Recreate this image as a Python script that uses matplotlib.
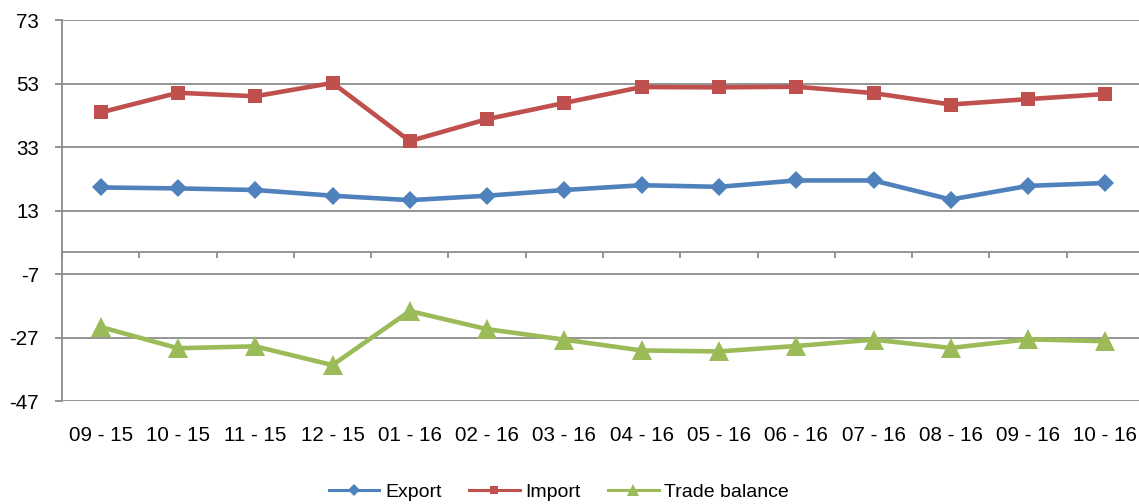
import matplotlib
matplotlib.use("Agg")
import matplotlib.pyplot as plt

categories = ["09 - 15", "10 - 15", "11 - 15", "12 - 15", "01 - 16", "02 - 16", "03 - 16",
              "04 - 16", "05 - 16", "06 - 16", "07 - 16", "08 - 16", "09 - 16", "10 - 16"]
export = [20.3, 20.0, 19.5, 17.7, 16.3, 17.7, 19.5, 21.0, 20.5, 22.5, 22.5, 16.5, 20.8, 21.7]
imports = [43.9, 50.1, 49.0, 53.2, 34.9, 41.8, 46.9, 51.9, 51.8, 52.0, 50.0, 46.4, 48.1, 49.7]
balance = [-23.6, -30.3, -29.7, -35.6, -18.6, -24.3, -27.6, -31.0, -31.3, -29.6, -27.6, -30.2, -27.5, -28.1]
yticks = [-47, -27, -7, 13, 33, 53, 73]

plt.rcParams['font.family'] = ['Liberation Sans', 'DejaVu Sans']
plt.rcParams['axes.unicode_minus'] = False

W, H = 1139, 504
fig = plt.figure(figsize=(W / 100, H / 100), dpi=100)
left, right = 62, 1144
top, bottom = 20, 401.3
ax = fig.add_axes([left / W, 1 - bottom / H, (right - left) / W, (bottom - top) / H])

grid_c = '#8c8c8c'
blue, red, green = '#4F81BD', '#C0504D', '#9BBB59'
lw = 3.3

x = list(range(len(categories)))
ax.plot(x, export, color=blue, lw=lw, marker='D', ms=9.6, mew=0, label='Export',
        solid_joinstyle='round', zorder=3)
ax.plot(x, imports, color=red, lw=lw, marker='s', ms=10.6, mew=0, label='Import',
        solid_joinstyle='round', zorder=3)
ax.plot(x, balance, color=green, lw=lw, marker='^', ms=13.8, mew=0, label='Trade balance',
        solid_joinstyle='round', zorder=3)

ax.set_xlim(-0.5, len(categories) - 0.5)
ax.set_ylim(yticks[0], yticks[-1])
ax.set_yticks(yticks)
ax.set_yticklabels([str(v) for v in yticks])
ax.yaxis.grid(True, color=grid_c, lw=1.3)
ax.set_axisbelow(True)
for s in ['top', 'right', 'bottom']:
    ax.spines[s].set_visible(False)
ax.spines['left'].set_color(grid_c)
ax.spines['left'].set_linewidth(1.3)
ax.tick_params(axis='y', direction='out', length=5, width=1.3, color=grid_c,
               pad=11.5, labelsize=14.8, labelcolor='black')
ax.set_xticks(x)
ax.set_xticklabels(categories)
ax.tick_params(axis='x', length=0, pad=17.5, labelsize=14.8, labelcolor='black')

# zero axis line with category boundary tick marks
frac0 = (0 - yticks[0]) / (yticks[-1] - yticks[0])
sec = ax.secondary_xaxis(frac0)
sec.set_xticks([i + 0.5 for i in range(-1, len(categories))])
sec.set_xticklabels([])
sec.spines['bottom'].set_color(grid_c)
sec.spines['bottom'].set_linewidth(1.3)
sec.tick_params(axis='x', direction='out', length=4.5, width=1.3, color=grid_c)

leg = fig.legend(loc='center', bbox_to_anchor=(559 / W, 1 - 492 / H), ncol=3,
                 frameon=False, fontsize=14, handlelength=2.6, handletextpad=0.3,
                 columnspacing=1.4, markerscale=0.6)
for ln in leg.get_lines():
    ln.set_linewidth(2.2)

fig.savefig('out.png', dpi=100)
